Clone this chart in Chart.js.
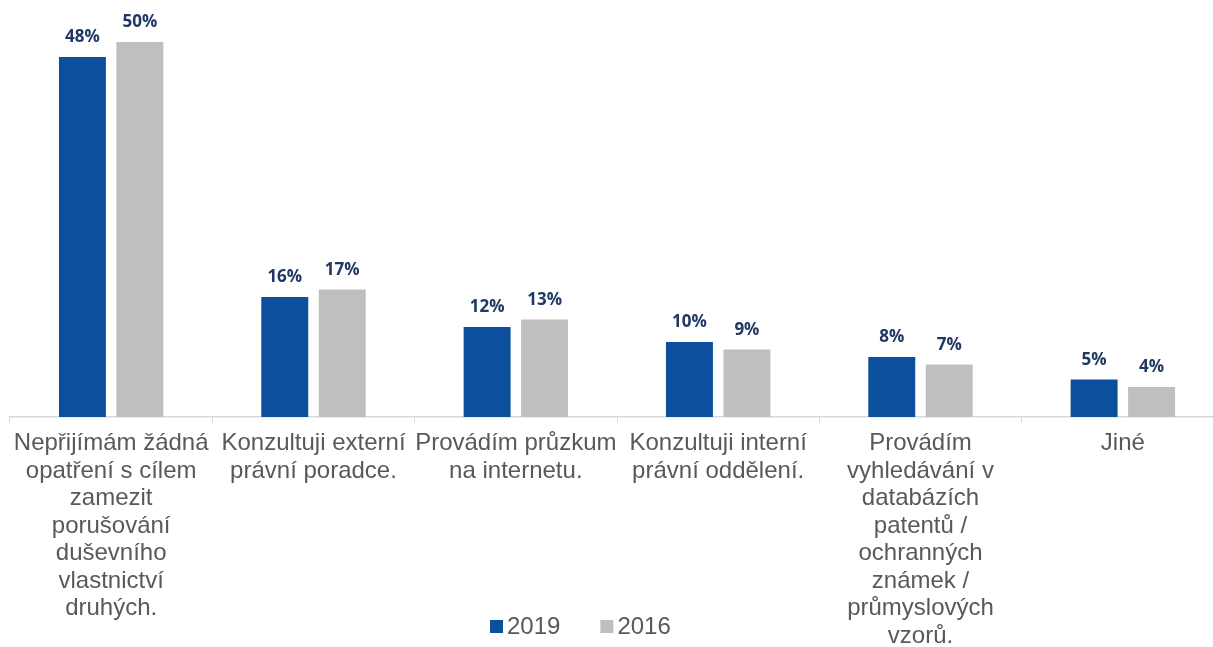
<!DOCTYPE html>
<html>
<head>
<meta charset="utf-8">
<script src="https://cdn.jsdelivr.net/npm/chart.js@4"></script>
<style>
  html, body { margin: 0; padding: 0; background: #fff; overflow: hidden; }
  #wrap { width: 1226px; height: 647px; }
</style>
</head>
<body>
<div id="wrap"><canvas id="chart" width="1226" height="647"></canvas></div>
<script>
const categories = [
  ['Nepřijímám žádná', 'opatření s cílem', 'zamezit', 'porušování', 'duševního', 'vlastnictví', 'druhých.'],
  ['Konzultuji externí', 'právní poradce.'],
  ['Provádím průzkum', 'na internetu.'],
  ['Konzultuji interní', 'právní oddělení.'],
  ['Provádím', 'vyhledávání v', 'databázích', 'patentů /', 'ochranných', 'známek /', 'průmyslových', 'vzorů.'],
  ['Jiné']
];
const values2019 = [48, 16, 12, 10, 8, 5];
const values2016 = [50, 17, 13, 9, 7, 4];

const BLUE = '#0B4F9D';
const GRAY = '#BFBFBF';

// value labels above the bars
const barLabels = {
  id: 'barLabels',
  afterDatasetsDraw(chart) {
    const ctx = chart.ctx;
    ctx.save();
    ctx.font = 'bold 17px "Open Sans"';
    ctx.fillStyle = '#1F3864';
    ctx.textAlign = 'center';
    ctx.textBaseline = 'alphabetic';
    chart.data.datasets.forEach((ds, i) => {
      chart.getDatasetMeta(i).data.forEach((bar, j) => {
        ctx.fillText(ds.data[j] + '%', bar.x, bar.y - 15);
      });
    });
    ctx.restore();
  }
};

// legend drawn over the label area, like the original
const bottomLegend = {
  id: 'bottomLegend',
  afterDraw(chart) {
    const ctx = chart.ctx;
    ctx.save();
    ctx.font = '24px "Liberation Sans"';
    ctx.textBaseline = 'middle';
    let x = 490;
    const y = 627;
    chart.data.datasets.forEach(ds => {
      ctx.fillStyle = ds.backgroundColor;
      ctx.fillRect(x, y - 7, 13, 13);
      ctx.fillStyle = '#595959';
      ctx.fillText(ds.label, x + 17, y);
      x += 17 + ctx.measureText(ds.label).width + 40;
    });
    ctx.restore();
  }
};

new Chart(document.getElementById('chart'), {
  type: 'bar',
  data: {
    labels: categories,
    datasets: [
      { label: '2019', data: values2019, backgroundColor: BLUE },
      { label: '2016', data: values2016, backgroundColor: GRAY }
    ]
  },
  options: {
    responsive: false,
    animation: false,
    devicePixelRatio: 1,
    layout: { padding: { left: 10, right: 2, top: 12, bottom: 0 } },
    categoryPercentage: 0.568,
    barPercentage: 0.817,
    plugins: {
      legend: { display: false },
      tooltip: { enabled: false }
    },
    scales: {
      x: {
        afterFit(scale) { scale.height = 230; },
        grid: {
          offset: true,
          drawOnChartArea: false,
          drawTicks: true,
          tickLength: 6,
          color: '#D9D9D9',
          lineWidth: 1
        },
        border: { color: '#D9D9D9', width: 1.5 },
        ticks: {
          autoSkip: false,
          maxRotation: 0,
          padding: 7,
          color: '#595959',
          font: { family: 'Liberation Sans', size: 24, lineHeight: 1.146 }
        }
      },
      y: {
        display: false,
        min: 0,
        max: 54
      }
    }
  },
  plugins: [barLabels, bottomLegend]
});
</script>
</body>
</html>
